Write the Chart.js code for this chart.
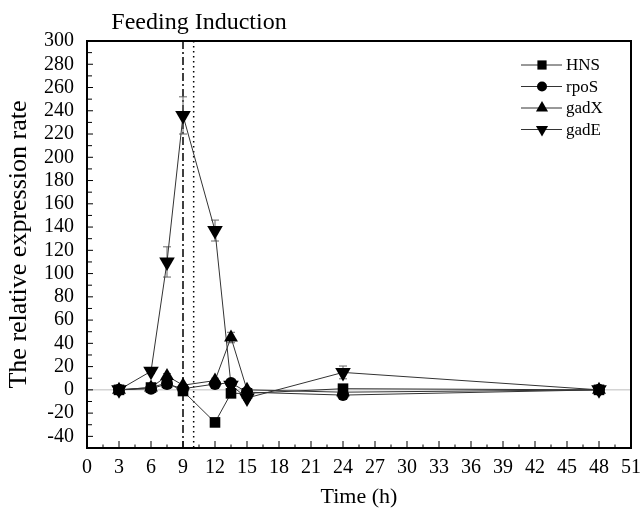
<!DOCTYPE html>
<html>
<head>
<meta charset="utf-8">
<script src="https://cdn.jsdelivr.net/npm/chart.js@4.4.0/dist/chart.umd.min.js"></script>
<style>
  html, body { margin: 0; padding: 0; background: #fff; }
  #wrap { width: 644px; height: 510px; }
</style>
</head>
<body>
<div id="wrap"><canvas id="chart"></canvas></div>
<script>
// sampling times (h)
const times = [3, 6, 7.5, 9, 12, 13.5, 15, 24, 48];

// relative expression rate per gene
const hnsVals  = [0, 2, 6, -1, -28, -3, -3, 1, 0];
const rposVals = [0, 1, 5, 1, 5, 6, -2, -4.5, 0];
const gadxVals = [0, 2, 12, 4, 8, 45, 0, -2, 0];
const gadeVals = [0, 16, 110, 236, 137, 4, -7, 15, 0];

// error bars (+/-)
const hnsErr  = [1, 1, 1, 1, 2, 1, 1, 1, 1];
const rposErr = [1, 1, 1, 1, 1, 1, 1, 1, 1];
const gadxErr = [1, 1, 2, 1, 2, 4.5, 1, 1, 1];
const gadeErr = [1, 2, 13, 16, 9, 2, 2, 5.5, 1];

// axis ticks
const xTicks = [0, 3, 6, 9, 12, 15, 18, 21, 24, 27, 30, 33, 36, 39, 42, 45, 48, 51];
const yTicks = [-40, -20, 0, 20, 40, 60, 80, 100, 120, 140, 160, 180, 200, 220, 240, 260, 280, 300];

const feedLine = 9;     // dash-dot
const inductLine = 10;  // dotted
const titleText = 'Feeding Induction';

const SERIF = '"Liberation Serif", "Times New Roman", serif';

function toPoints(vals) {
    return vals.map((v, i) => ({ x: times[i], y: v }));
}

// ============ marker drawing (legend) ============
function drawMarker(ctx, style, x, y, r) {
    ctx.beginPath();
    if (style === 'rect') {
        const s = r * Math.SQRT1_2;
        ctx.rect(x - s, y - s, 2 * s, 2 * s);
    } else if (style === 'circle') {
        ctx.arc(x, y, r, 0, Math.PI * 2);
    } else if (style === 'up') {
        ctx.moveTo(x, y - r);
        ctx.lineTo(x + r * 0.866, y + r * 0.5);
        ctx.lineTo(x - r * 0.866, y + r * 0.5);
        ctx.closePath();
    } else {
        ctx.moveTo(x, y + r);
        ctx.lineTo(x + r * 0.866, y - r * 0.5);
        ctx.lineTo(x - r * 0.866, y - r * 0.5);
        ctx.closePath();
    }
    ctx.fill();
}

// ============ plugin: frame, ticks, ref lines, error bars, legend ============
const decorPlugin = {
    id: 'decor',
    beforeDatasetsDraw(chart) {
        const { ctx, chartArea: a, scales: { x, y } } = chart;
        ctx.save();
        // zero line
        ctx.strokeStyle = '#bdbdbd';
        ctx.lineWidth = 1;
        ctx.beginPath();
        const y0 = y.getPixelForValue(0);
        ctx.moveTo(a.left, y0);
        ctx.lineTo(a.right, y0);
        ctx.stroke();

        // vertical reference lines
        ctx.strokeStyle = '#000';
        ctx.lineWidth = 1.5;
        ctx.setLineDash([8, 3, 2, 3]);
        let px = x.getPixelForValue(feedLine);
        ctx.beginPath();
        ctx.moveTo(px, a.top);
        ctx.lineTo(px, a.bottom + 4);
        ctx.stroke();
        ctx.setLineDash([1.5, 3.5]);
        px = x.getPixelForValue(inductLine);
        ctx.beginPath();
        ctx.moveTo(px, a.top);
        ctx.lineTo(px, a.bottom);
        ctx.stroke();
        ctx.setLineDash([]);

        // error bars
        ctx.strokeStyle = '#666';
        ctx.lineWidth = 1;
        chart.data.datasets.forEach(ds => {
            ds.errors.forEach((e, i) => {
                const v = ds.data[i].y;
                const cx = x.getPixelForValue(ds.data[i].x);
                const t = y.getPixelForValue(v + e);
                const b = y.getPixelForValue(v - e);
                ctx.beginPath();
                ctx.moveTo(cx, t); ctx.lineTo(cx, b);
                ctx.moveTo(cx - 4, t); ctx.lineTo(cx + 4, t);
                ctx.moveTo(cx - 4, b); ctx.lineTo(cx + 4, b);
                ctx.stroke();
            });
        });
        ctx.restore();
    },
    afterDraw(chart) {
        const { ctx, chartArea: a, scales: { x, y } } = chart;
        ctx.save();
        ctx.strokeStyle = '#000';

        // inner ticks
        ctx.lineWidth = 1;
        ctx.beginPath();
        yTicks.forEach(v => {
            const py = y.getPixelForValue(v);
            ctx.moveTo(a.left, py); ctx.lineTo(a.left + 6, py);
            const pm = y.getPixelForValue(v + 10);
            if (v + 10 < 300) { ctx.moveTo(a.left, pm); ctx.lineTo(a.left + 5, pm); }
        });
        xTicks.forEach(v => {
            const px = x.getPixelForValue(v);
            ctx.moveTo(px, a.bottom); ctx.lineTo(px, a.bottom - 7);
            if (v + 1.5 < 51) {
                const pm = x.getPixelForValue(v + 1.5);
                ctx.moveTo(pm, a.bottom); ctx.lineTo(pm, a.bottom - 3.5);
            }
        });
        ctx.stroke();

        // frame
        ctx.lineWidth = 2;
        ctx.strokeRect(a.left, a.top, a.right - a.left, a.bottom - a.top);

        // title above the feeding lines
        ctx.fillStyle = '#000';
        ctx.font = '24px ' + SERIF;
        ctx.textAlign = 'center';
        ctx.textBaseline = 'alphabetic';
        ctx.fillText(titleText, x.getPixelForValue(10.5), 29);

        // legend
        const lx = a.right - 89;
        let ly = a.top + 24;
        ctx.font = '17px ' + SERIF;
        ctx.textAlign = 'left';
        ctx.textBaseline = 'middle';
        chart.data.datasets.forEach(ds => {
            ctx.strokeStyle = '#333';
            ctx.lineWidth = 1;
            ctx.beginPath();
            ctx.moveTo(lx - 21, ly); ctx.lineTo(lx + 20, ly);
            ctx.stroke();
            ctx.fillStyle = '#000';
            drawMarker(ctx, ds.legendStyle, lx, ly, ds.legendR);
            ctx.fillText(ds.label, lx + 24, ly + 1);
            ly += 21.5;
        });
        ctx.restore();
    }
};

function series(label, vals, errs, style, r, rot, legendStyle, legendR) {
    return {
        label,
        data: toPoints(vals),
        errors: errs,
        showLine: true,
        borderColor: '#333',
        borderWidth: 1,
        backgroundColor: '#000',
        pointStyle: style,
        pointRotation: rot,
        pointRadius: r,
        pointHoverRadius: r,
        pointBackgroundColor: '#000',
        pointBorderColor: '#000',
        pointBorderWidth: 0,
        tension: 0,
        legendStyle,
        legendR
    };
}

const datasets = [
    series('HNS', hnsVals, hnsErr, 'rect', 7.5, 0, 'rect', 6.5),
    series('rpoS', rposVals, rposErr, 'circle', 6, 0, 'circle', 5),
    series('gadX', gadxVals, gadxErr, 'triangle', 8, 0, 'up', 7),
    series('gadE', gadeVals, gadeErr, 'triangle', 9, 180, 'down', 7)
];

new Chart(document.getElementById('chart'), {
    type: 'scatter',
    data: { datasets },
    plugins: [decorPlugin],
    options: {
        responsive: true,
        maintainAspectRatio: false,
        animation: false,
        layout: { padding: { top: 41, right: 13, left: 0, bottom: 0 } },
        plugins: {
            legend: { display: false },
            tooltip: { enabled: false }
        },
        scales: {
            x: {
                type: 'linear',
                min: 0,
                max: 51,
                afterBuildTicks: s => { s.ticks = xTicks.map(v => ({ value: v })); },
                afterFit: s => { s.height = 62; s.paddingRight = 0; s.paddingLeft = 0; },
                grid: { display: false, drawTicks: false },
                border: { display: false },
                ticks: {
                    color: '#000',
                    font: { family: SERIF, size: 20 },
                    padding: 8,
                    maxRotation: 0,
                    autoSkip: false
                },
                title: {
                    display: true,
                    text: 'Time (h)',
                    color: '#000',
                    font: { family: SERIF, size: 22 },
                    padding: { top: 0, bottom: 0 }
                }
            },
            y: {
                type: 'linear',
                min: -50,
                max: 300,
                afterBuildTicks: s => { s.ticks = yTicks.map(v => ({ value: v })); },
                afterFit: s => { s.width = 87; },
                grid: { display: false, drawTicks: false },
                border: { display: false },
                ticks: {
                    color: '#000',
                    font: { family: SERIF, size: 20 },
                    padding: 13,
                    autoSkip: false
                },
                title: {
                    display: true,
                    text: 'The relative expression rate',
                    color: '#000',
                    font: { family: SERIF, size: 26 },
                    padding: { top: 4, bottom: 0 }
                }
            }
        }
    }
});
</script>
</body>
</html>
